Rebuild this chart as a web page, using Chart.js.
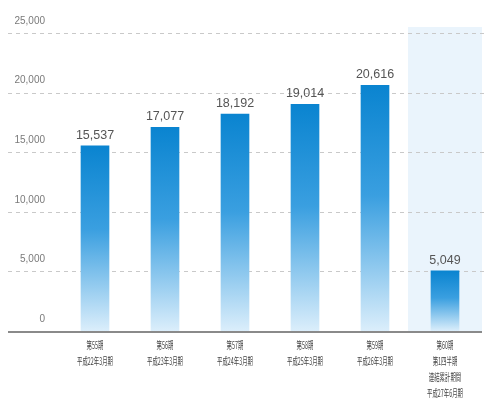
<!DOCTYPE html>
<html lang="ja">
<head>
<meta charset="utf-8">
<script src="https://cdn.jsdelivr.net/npm/chart.js@4.4.1/dist/chart.umd.min.js"></script>
<style>
  html, body { margin:0; padding:0; background:#fff; }
  #wrap { width:486px; height:405px; }
</style>
</head>
<body>
<div id="wrap"><canvas id="c" width="486" height="405"></canvas></div>
<script>
/* ── Data ─────────────────────────────────────────────── */
const periods = [
  ['第55期', '平成22年3月期'],
  ['第56期', '平成23年3月期'],
  ['第57期', '平成24年3月期'],
  ['第58期', '平成25年3月期'],
  ['第59期', '平成26年3月期'],
  ['第60期', '第1四半期', '連結累計期間', '平成27年6月期']
];
const values = [15537, 17077, 18192, 19014, 20616, 5049];
const yTicks = [0, 5000, 10000, 15000, 20000, 25000];
const highlightIndex = 5;

function fmtN(n) { return n.toLocaleString('en-US'); }

/* ── Plugins ──────────────────────────────────────────── */
const backdrop = {
  id: 'backdrop',
  beforeDatasetsDraw(chart) {
    const { ctx, chartArea: a, scales: { x, y } } = chart;
    ctx.save();
    // highlighted last period
    const cx = x.getPixelForValue(highlightIndex);
    ctx.fillStyle = '#eaf4fc';
    ctx.fillRect(cx - 37, a.top - 6, 74, a.bottom - a.top + 6);
    // dashed grid running under the tick labels
    ctx.strokeStyle = '#c9c9c9';
    ctx.lineWidth = 1;
    ctx.setLineDash([4, 4]);
    yTicks.forEach(v => {
      if (!v) return;
      const py = Math.round(y.getPixelForValue(v)) + 0.5;
      ctx.beginPath(); ctx.moveTo(8, py); ctx.lineTo(484, py); ctx.stroke();
    });
    ctx.restore();
  },
  afterDatasetsDraw(chart) {
    const { ctx, scales: { x, y } } = chart;
    ctx.save();
    // baseline
    const by = y.getPixelForValue(0);
    ctx.strokeStyle = '#8a8a8a';
    ctx.lineWidth = 2;
    ctx.beginPath(); ctx.moveTo(8, by + 1); ctx.lineTo(482, by + 1); ctx.stroke();
    // values on top of bars
    ctx.fillStyle = '#555';
    ctx.font = '12.5px "Liberation Sans", Arial, sans-serif';
    ctx.textAlign = 'center';
    ctx.textBaseline = 'alphabetic';
    chart.getDatasetMeta(0).data.forEach((bar, i) => {
      ctx.fillText(fmtN(values[i]), bar.x, bar.y - 7);
    });
    // condensed period labels
    ctx.fillStyle = '#444';
    ctx.font = '10px "Noto Sans CJK JP", sans-serif';
    ctx.textBaseline = 'middle';
    periods.forEach((lines, i) => {
      const px = x.getPixelForValue(i);
      lines.forEach((t, j) => {
        ctx.save();
        ctx.translate(px, 345 + j * 16);
        ctx.scale(0.54, 1.05);
        ctx.fillText(t, 0, 0);
        ctx.restore();
      });
    });
    ctx.restore();
  }
};

/* ── Chart ────────────────────────────────────────────── */
new Chart(document.getElementById('c'), {
  type: 'bar',
  data: {
    labels: periods,
    datasets: [{
      data: values,
      barThickness: 28,
      borderWidth: 0,
      backgroundColor: c => {
        const ch = c.chart, ys = ch.scales.y;
        if (!ys || !ch.chartArea || c.raw == null) return '#1287d2';
        const top = ys.getPixelForValue(c.raw), base = ys.getPixelForValue(0);
        const g = ch.ctx.createLinearGradient(0, top, 0, base);
        g.addColorStop(0, '#0a84d0');
        g.addColorStop(0.45, '#3a9fe0');
        g.addColorStop(1, '#dbeefb');
        return g;
      }
    }]
  },
  options: {
    responsive: false,
    animation: false,
    events: [],
    layout: { padding: { top: 33, right: 6, left: 0, bottom: 0 } },
    plugins: { legend: { display: false }, tooltip: { enabled: false } },
    scales: {
      x: {
        grid: { display: false },
        border: { display: false },
        ticks: { display: false },
        afterFit: s => { s.height = 74; }
      },
      y: {
        min: 0, max: 25000,
        afterBuildTicks: s => { s.ticks = yTicks.map(v => ({ value: v })); },
        grid: { display: false },
        border: { display: false },
        ticks: {
          padding: 7,
          labelOffset: -12,
          color: '#7a7a7a',
          font: { family: '"Liberation Sans", Arial, sans-serif', size: 10 },
          callback: v => fmtN(v)
        },
        afterFit: s => { s.width = 60; }
      }
    }
  },
  plugins: [backdrop]
});
</script>
</body>
</html>
